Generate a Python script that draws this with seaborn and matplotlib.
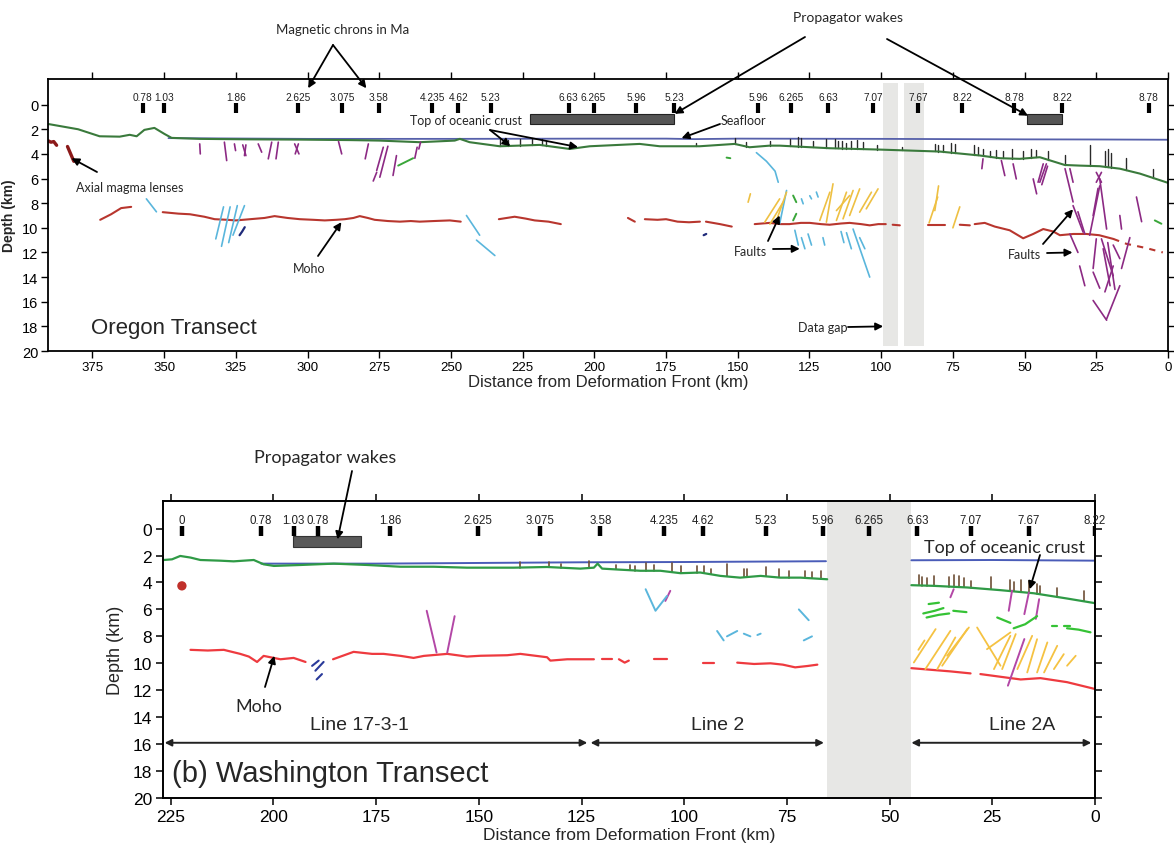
import numpy as np
import pandas as pd
import matplotlib
matplotlib.use("Agg")
import matplotlib.pyplot as plt
import seaborn as sns

sns.set_theme(style="ticks")
plt.rcParams['font.family'] = ['Liberation Sans', 'DejaVu Sans']

W, H = 1174, 854
NARROW = ['Liberation Sans', 'DejaVu Sans']
CAL = ['Lato', 'DejaVu Sans']

# ===================== DATA : OREGON TRANSECT =====================
OR_CHRON_KM = [357.4, 350.0, 325.0, 303.4, 287.9, 275.2, 256.6, 247.4, 236.1, 208.9, 200.3,
               185.5, 172.1, 142.9, 131.5, 118.4, 102.7, 87.0, 71.7, 53.7, 36.8, 6.7]
OR_CHRON_LAB = ["0.78", "1.03", "1.86", "2.625", "3.075", "3.58", "4.235", "4.62", "5.23", "6.63", "6.265",
                "5.96", "5.23", "5.96", "6.265", "6.63", "7.07", "7.67", "8.22", "8.78", "8.22", "8.78"]
OR_WAKE_START = [222.3, 49.0]
OR_WAKE_END = [172.1, 36.8]
OR_GAP_START = [99.3, 91.9]
OR_GAP_END = [94.2, 85.0]

OR_SEAFLOOR_KM = [348.5, 325, 300, 275, 250, 225, 200, 175, 165, 150, 125, 100, 75, 50, 25, 0]
OR_SEAFLOOR_D = [2.72, 2.75, 2.78, 2.78, 2.78, 2.77, 2.76, 2.76, 2.8, 2.76, 2.77, 2.78, 2.8, 2.82, 2.83, 2.85]

OR_CRUST_KM = [390.5, 380, 372.5, 365.5, 362, 359.6, 356.9, 353.4, 349.9, 347.4, 337.6, 320, 302.7, 285,
               274.9, 260.9, 248.7, 246.9, 243.5, 233, 219.1, 208.6, 201.6, 184.2, 177.2, 163.3, 151.1,
               145.9, 138.9, 135.4, 118, 100.5, 79.6, 65.6, 58.6, 51.7, 44.7, 36, 30.8, 23.8, 16.8, 9.8, 0]
OR_CRUST_D = [1.57, 2.0, 2.57, 2.6, 2.45, 2.57, 2.05, 1.89, 2.38, 2.7, 2.78, 2.82, 2.84, 2.88,
              2.92, 3.05, 2.92, 2.78, 3.05, 3.38, 3.27, 3.6, 3.38, 3.19, 3.38, 3.38, 3.19,
              3.46, 3.33, 3.33, 3.54, 3.65, 3.81, 4.13, 4.35, 4.4, 4.27, 4.9, 4.95, 5.0, 5.2, 5.6, 6.35]

OR_MOHO = [
    (372.3, 9.35, 368.5, 8.9, 365.0, 8.4, 361.5, 8.3),
    (350.5, 8.73, 345, 8.85, 341, 8.9, 336, 9.1, 332.4, 9.3, 328, 9.35, 325, 9.4, 320, 9.3, 315, 9.2,
     311.5, 9.05, 307, 9.2, 302.7, 9.3, 298, 9.35, 294, 9.4, 290, 9.35, 287, 9.3, 284, 9.2, 281.8, 9.05,
     279, 9.2, 276.6, 9.35, 272, 9.45, 267.8, 9.5, 264, 9.45, 260.9, 9.5, 256, 9.45, 250.4, 9.4, 246.6, 9.5),
    (233.3, 9.3, 227.8, 9.1, 224, 9.25, 220.8, 9.4, 216, 9.5, 211.7, 9.7),
    (188.3, 9.2, 185.9, 9.5),
    (182.4, 9.3, 178, 9.35, 175, 9.3, 171, 9.5, 167, 9.55, 163.2, 9.5),
    (161.1, 9.5, 156.2, 9.7, 152.1, 9.9),
    (144.1, 9.7, 138.9, 9.6, 135, 9.7, 132, 9.7, 128, 9.6, 124.9, 9.6, 121, 9.7, 118, 9.75, 114, 9.65,
     111, 9.6, 107, 9.7, 104, 9.8, 101, 9.7, 98.4, 9.7),
    (96.0, 9.75, 93.5, 9.8),
    (83.8, 9.8, 77.8, 9.8),
    (72.6, 9.75, 69.1, 9.8),
    (67.4, 9.7, 63.9, 9.6, 60.4, 9.9, 55.2, 10.2, 50.5, 10.85, 47, 10.5, 43.5, 10.1, 40, 10.3, 37.7, 10.6,
     33, 10.5, 28.4, 10.5, 24, 10.6, 19.1, 10.9),
]
OR_MOHO_DASHED = [(19.1, 10.9, 14.5, 11.3, 7.5, 11.65, 1.8, 12.0)]

OR_MAGMA = [(390.3, 2.95, 389.5, 3.05, 388.5, 3.0, 387.5, 3.3), (383.7, 3.4, 381.5, 4.6)]

OR_PURPLE = [
    (337.6, 3.19, 337.4, 4.0), (329.0, 3.05, 328.2, 4.54), (325.5, 3.19, 325.1, 3.73),
    (322.6, 3.27, 321.5, 4.14), (321.5, 3.27, 322.0, 4.14), (317.2, 3.19, 316.0, 3.86),
    (312.5, 3.05, 313.7, 4.4), (310.2, 3.05, 311.0, 4.4), (304.5, 3.19, 303.0, 4.0),
    (303.2, 3.19, 304.3, 4.0), (289.2, 3.0, 288.1, 4.0), (278.8, 3.19, 279.9, 4.4),
    (273.6, 3.46, 275.9, 5.35), (275.9, 5.5, 277.1, 6.2), (272.0, 3.38, 274.8, 5.89),
    (269.0, 4.14, 270.2, 5.75), (261.8, 3.46, 262.6, 4.35), (260.6, 3.05, 261.2, 3.6),
    (64.5, 4.4, 64.9, 5.2), (58.1, 4.54, 56.9, 5.76), (54.0, 4.81, 52.9, 6.03),
    (47.0, 6.03, 45.8, 7.24), (42.4, 4.81, 44.7, 6.3), (43.5, 4.81, 45.3, 6.3), (42.0, 5.0, 44.0, 6.5),
    (35.9, 5.2, 33.1, 7.9), (34.2, 5.2, 33.1, 6.3), (33.1, 8.2, 29.6, 10.35), (31.4, 8.7, 29.0, 10.5),
    (25.0, 5.5, 23.2, 6.3), (23.2, 5.5, 25.0, 6.3), (23.8, 6.6, 27.3, 10.6), (24.4, 6.8, 26.1, 9.0),
    (23.8, 6.03, 21.4, 10.1), (16.8, 9.0, 16.2, 10.1), (11.0, 7.5, 9.2, 9.5),
    (34.2, 10.5, 31.4, 12.0), (30.8, 13.1, 29.0, 14.7), (25.0, 10.9, 26.1, 13.3),
    (23.2, 10.9, 19.1, 13.9), (22.6, 11.7, 20.2, 14.7), (19.1, 11.4, 16.8, 12.5),
    (13.3, 10.8, 16.2, 13.3), (19.1, 13.1, 22.0, 15.2), (16.8, 14.7, 21.4, 17.4),
    (26.1, 15.9, 21.4, 17.5), (26.1, 13.6, 23.8, 14.9), (21.0, 11.2, 18.5, 15.0),
]
OR_CYAN = [
    (356.2, 7.65, 352.7, 8.7),
    (329.3, 8.3, 332.0, 10.9), (327.0, 8.3, 330.0, 11.5), (324.5, 8.2, 327.5, 11.2), (322.0, 8.2, 326.0, 10.6),
    (244.6, 9.0, 240.0, 10.6), (241.1, 11.0, 234.7, 12.25),
    (143.5, 3.9, 140.0, 4.6, 137.0, 5.4, 135.9, 6.3),
    (133.0, 6.97, 135.4, 9.67), (127.8, 7.65, 127.2, 8.05), (124.9, 7.4, 124.3, 7.65), (122.6, 7.1, 122.0, 7.5),
    (130.1, 10.2, 128.9, 11.4), (127.8, 10.8, 126.6, 11.7), (125.5, 10.5, 124.3, 11.4),
    (120.3, 10.8, 119.7, 11.4), (112.1, 10.4, 110.4, 11.7), (109.8, 10.1, 104.0, 14.0),
    (107.5, 10.8, 105.7, 11.7), (114.0, 10.3, 113.0, 11.2),
]
OR_YELLOW = [
    (146.4, 7.92, 145.6, 7.24), (140.6, 9.54, 135.4, 7.65), (138.8, 9.7, 134.2, 7.92),
    (136.5, 9.4, 133.0, 7.11), (121.4, 9.4, 117.9, 7.11), (119.1, 9.54, 116.8, 6.43),
    (115.6, 9.4, 112.1, 7.11), (113.3, 9.27, 109.8, 6.97), (111.0, 9.0, 107.5, 6.84),
    (107.5, 8.73, 103.4, 7.11), (105.2, 8.46, 101.1, 6.84), (115.6, 8.6, 111.0, 7.38),
    (83.3, 9.6, 80.3, 7.5), (81.3, 8.6, 80.0, 6.6), (75.0, 10.0, 72.6, 8.3),
]
OR_FGREEN = [(268.4, 4.95, 263.2, 4.35), (153.9, 4.3, 152.6, 4.35), (130.7, 7.38, 129.6, 7.92),
             (129.6, 8.86, 130.7, 9.4), (4.6, 9.4, 2.3, 9.67)]
OR_DKBLUE = [(321.9, 9.95, 322.8, 10.3, 323.7, 10.6), (161.9, 10.6, 161.0, 10.5)]

OR_SPIKE_KM = [233.0, 230.1, 226.0, 221.9, 218.2, 216.7, 164.4, 151.0, 147.0, 138.8,
               131.9, 129.0, 127.8, 123.7, 119.1, 116.2, 115.0, 113.8, 112.1, 110.4, 108.4, 106.5,
               101.6, 92.9, 81.3, 80.2, 78.4, 75.5, 74.3, 67.7, 66.2, 64.5, 62.1, 59.8, 57.5, 54.4,
               50.5, 47.6, 45.9, 41.8, 36.0, 27.3, 22.0, 20.9, 19.7, 14.5, 5.2]
OR_SPIKE_LEN = [0.6, 0.5, 0.5, 0.6, 0.5, 0.4, 0.3, 0.5, 0.4, 0.4,
                0.6, 0.8, 0.7, 0.5, 0.7, 0.8, 0.6, 0.6, 0.5, 0.6, 0.7, 0.6,
                0.4, 0.3, 0.6, 0.5, 0.6, 0.8, 0.7, 0.8, 0.7, 0.6, 0.5, 0.6, 0.6, 0.8,
                0.6, 0.7, 0.6, 0.7, 0.8, 1.7, 1.3, 1.5, 1.2, 1.0, 0.7]

# ===================== DATA : WASHINGTON TRANSECT =====================
WA_CHRON_KM = [222.3, 203.1, 195.1, 189.2, 171.6, 150.3, 135.0, 120.4, 104.9, 95.4, 80.2, 66.3,
               55.1, 43.3, 30.2, 16.1, 0.0]
WA_CHRON_LAB = ["0", "0.78", "1.03", "0.78", "1.86", "2.625", "3.075", "3.58", "4.235", "4.62", "5.23",
                "5.96", "6.265", "6.63", "7.07", "7.67", "8.22"]
WA_WAKE_START = [195.2]
WA_WAKE_END = [178.8]
WA_GAP_START = [65.2]
WA_GAP_END = [44.7]

WA_SEAFLOOR = [(203.0, 2.6, 175, 2.6, 150, 2.55, 125, 2.5, 100, 2.48, 65.5, 2.42),
               (44.7, 2.35, 25, 2.33, 0, 2.38)]
WA_CRUST = [
    (226.7, 2.33, 224.7, 2.28, 222.7, 2.03, 220.2, 2.15, 217.8, 2.33, 213, 2.38, 209.7, 2.43, 204.8, 2.33,
     202.4, 2.65, 199.9, 2.77, 193.4, 2.7, 185.3, 2.6, 177.2, 2.7, 169.1, 2.83, 161, 2.83, 152.9, 2.9,
     149.6, 2.9, 141.5, 2.9, 133.4, 2.85, 125.3, 2.97, 122, 2.9, 121.1, 2.6, 120, 2.97, 115.5, 3.05,
     110.7, 3.13, 105.8, 3.13, 100.9, 3.31, 96.1, 3.26, 91.2, 3.51, 86.4, 3.64, 81.4, 3.51, 76.6, 3.64,
     71.7, 3.64, 65.2, 3.76),
    (44.7, 4.2, 39.2, 4.25, 31.1, 4.37, 23.0, 4.57, 14.9, 4.8, 6.8, 5.19, 0.1, 5.53),
]
WA_MOHO = [
    (220.2, 9.0, 216, 9.05, 212.1, 9.0, 208.1, 9.3, 206, 9.5, 204, 9.9, 202.4, 9.45, 198.3, 9.7,
     195.1, 9.6, 192.2, 9.9),
    (185.5, 9.7, 180.5, 9.15, 176, 9.3, 173.2, 9.3, 169, 9.45, 165.9, 9.6, 163.4, 9.45, 157.7, 9.3,
     152.9, 9.5, 149.6, 9.44, 143.1, 9.4, 139.9, 9.3, 133.4, 9.55, 132.6, 9.8, 128.5, 9.7, 122, 9.7),
    (120.0, 9.65, 117.6, 9.65), (115.9, 9.7, 114.5, 9.95, 113.5, 9.8), (107.4, 9.7, 104.2, 9.7),
    (95.4, 10.0, 92.8, 10.0),
    (87.1, 9.95, 83, 10.05, 79, 10.0, 76, 10.1, 73, 10.3, 70, 10.2, 67.6, 10.1),
    (44.7, 10.36, 39.2, 10.5, 35.2, 10.6, 30.3, 10.75),
    (27.9, 10.8, 23.0, 11.0, 18.1, 11.2, 13.3, 11.1, 6.8, 11.4, 0.1, 11.9),
]
WA_DOT_KM = [222.3]
WA_DOT_D = [4.25]

WA_PURPLE = [(162.7, 6.1, 160.3, 9.2), (155.9, 6.5, 157.7, 9.2), (103.4, 4.62, 104.6, 5.37),
             (34.4, 4.5, 35.2, 5.1), (20.2, 4.6, 21.0, 6.1), (16.1, 4.75, 17.2, 6.35),
             (13.6, 5.24, 14.4, 6.7), (17.2, 8.2, 21.2, 11.66)]
WA_CYAN = [(109.4, 4.5, 107.0, 6.1, 104.2, 5.0), (92.0, 7.6, 90.4, 8.3), (89.6, 8.0, 87.1, 7.6),
           (85.5, 7.8, 83.9, 8.0), (82.2, 7.9, 81.4, 7.8), (72.1, 6.0, 69.7, 6.8),
           (70.9, 8.3, 68.9, 8.0)]
WA_DKBLUE = [(190.6, 10.19, 189.0, 9.8), (189.8, 10.55, 187.8, 9.9), (189.5, 11.2, 188.2, 10.8)]
WA_YELLOW = [(44.1, 9.94, 38.8, 7.46), (41.3, 10.43, 35.2, 7.59), (38.4, 10.43, 34.0, 8.08),
             (37.2, 10.18, 31.1, 7.46), (36.0, 9.44, 30.7, 7.34), (28.7, 7.34, 23.0, 10.18),
             (26.3, 8.95, 20.6, 7.71), (24.6, 10.43, 20.6, 7.96), (22.6, 10.43, 19.3, 7.83),
             (18.9, 10.43, 15.3, 7.96), (16.5, 10.68, 14.1, 8.21), (14.1, 10.68, 11.6, 8.45),
             (12.4, 10.68, 9.2, 8.70), (10.0, 10.43, 7.6, 9.32), (6.8, 10.18, 4.7, 9.44),
             (43.0, 9.0, 41.5, 8.3)]
WA_FGREEN = [(41.8, 6.3, 39, 6.1, 36.9, 5.9), (41.0, 6.6, 38, 6.4, 35.5, 6.3), (34.5, 6.1, 31.3, 6.2),
             (40.5, 5.6, 38.0, 5.5), (23.8, 6.6, 20.6, 7.0), (19.8, 7.4, 17, 7.1, 14.1, 6.5),
             (10.4, 7.2, 9.2, 7.2), (7.6, 7.2, 6.0, 7.2), (6.8, 7.4, 4, 7.5, 1.1, 7.7)]
WA_SPIKE_KM = [139.9, 133.0, 130.1, 123.3, 116.7, 113.1, 111.9, 109.4, 107.4, 102.9, 100.9, 96.9, 95.3,
               93.6, 89.6, 85.5, 84.7, 80.2, 77.0, 74.6, 70.5, 68.9, 66.8,
               42.9, 42.1, 40.9, 39.3, 35.6, 34.3, 33.1, 31.9, 30.3, 25.4, 20.6, 19.8, 18.1, 16.1,
               14.1, 13.3, 9.2, 2.7]
WA_SPIKE_LEN = [0.4, 0.4, 0.3, 0.5, 0.3, 0.4, 0.3, 0.6, 0.4, 0.7, 0.5, 0.5, 0.5,
                0.4, 0.9, 0.6, 0.6, 0.7, 0.6, 0.5, 0.5, 0.5, 0.6,
                0.8, 0.6, 0.6, 0.7, 0.7, 0.9, 0.8, 0.7, 0.5, 0.9, 0.8, 0.7, 0.9, 0.9,
                0.7, 0.6, 0.7, 0.8]

# ===================== COLORS =====================
OR_GREEN, OR_BLUE, OR_RED = '#3a7a3c', '#5660aa', '#b8362e'
PURPLE, CYAN, YELLOW, DKBLUE = '#8c2a84', '#5ab6dc', '#eec043', '#1f2a7a'
WA_GREEN, WA_RED, WA_BLUE = '#2f9a46', '#ee3a3f', '#4a5cb8'
WA_PURP, WA_BROWN, WA_FG = '#b347a6', '#6e4f36', '#35c235'


def seg_frame(segs):
    rows = []
    for i, s in enumerate(segs):
        for j in range(0, len(s), 2):
            rows.append((i, s[j], s[j + 1]))
    return pd.DataFrame(rows, columns=['seg', 'x', 'y'])


def draw_segs(ax, segs, color, lw=1.2, ls='-'):
    df = seg_frame(segs)
    sns.lineplot(data=df, x='x', y='y', units='seg', estimator=None, sort=False,
                 color=color, lw=lw, ls=ls, ax=ax, legend=False)


def spikes(km_list, len_list, line_km, line_d):
    xs = np.asarray(line_km)[::-1]
    ys = np.asarray(line_d)[::-1]
    out = []
    for k, L in zip(km_list, len_list):
        b = float(np.interp(k, xs, ys))
        out.append((k, b, k, b - L))
    return out


def fig_xy(x, y):
    return (x / W, 1 - y / H)


fig = plt.figure(figsize=(11.74, 8.54), dpi=100)
ax1 = fig.add_axes([48 / W, 1 - 352 / H, (1168 - 48) / W, (352 - 80) / H])
ax2 = fig.add_axes([163 / W, 1 - 799 / H, (1095 - 163) / W, (799 - 502) / H])

# ===================== TOP PANEL =====================
for a, b in zip(OR_GAP_START, OR_GAP_END):
    ax1.axvspan(a, b, ymin=0.018, ymax=0.987, color='#e7e7e5', zorder=0, lw=0)

or_sea = pd.DataFrame({'x': OR_SEAFLOOR_KM, 'y': OR_SEAFLOOR_D})
sns.lineplot(data=or_sea, x='x', y='y', sort=False, estimator=None, color=OR_BLUE, lw=1.3, ax=ax1)
draw_segs(ax1, spikes(OR_SPIKE_KM, OR_SPIKE_LEN, OR_CRUST_KM, OR_CRUST_D), '#2a2a2a', lw=1.0)
or_crust = pd.DataFrame({'x': OR_CRUST_KM, 'y': OR_CRUST_D})
sns.lineplot(data=or_crust, x='x', y='y', sort=False, estimator=None, color=OR_GREEN, lw=1.5, ax=ax1)
draw_segs(ax1, OR_MOHO, OR_RED, lw=1.5)
draw_segs(ax1, OR_MOHO_DASHED, OR_RED, lw=1.5, ls=(0, (3, 3)))
draw_segs(ax1, OR_MAGMA, '#8b1a1a', lw=2.4)
draw_segs(ax1, OR_PURPLE, PURPLE, lw=1.2)
draw_segs(ax1, OR_CYAN, CYAN, lw=1.2)
draw_segs(ax1, OR_YELLOW, YELLOW, lw=1.2)
draw_segs(ax1, OR_FGREEN, '#3aa63a', lw=1.4)
draw_segs(ax1, OR_DKBLUE, DKBLUE, lw=1.6)

ax1.barh(y=1.16, width=np.array(OR_WAKE_END) - np.array(OR_WAKE_START), left=OR_WAKE_START,
         height=0.82, color='#555555', edgecolor='#222222', lw=0.8, zorder=3)
sns.scatterplot(x=OR_CHRON_KM, y=[0.25] * len(OR_CHRON_KM), marker='|', s=45, linewidth=3,
                color='black', ax=ax1, zorder=4)
for k, lab in zip(OR_CHRON_KM, OR_CHRON_LAB):
    ax1.text(k, -0.6, lab, ha='center', va='center', fontsize=7.3, family=NARROW, color='#222222')

ax1.set_xlim(390.5, 0)
ax1.set_ylim(20, -2.08)
ax1.set_xticks(range(375, -1, -25))
ax1.set_xticklabels([str(v) for v in range(375, -1, -25)], family=NARROW, fontsize=9.5)
ax1.set_yticks(range(0, 21, 2))
ax1.set_yticklabels([str(v) for v in range(0, 21, 2)], family=NARROW, fontsize=10.5)
ax1.tick_params(top=True, right=True, direction='out', length=5, width=1, colors='black', pad=2)
ax1.set_xlabel('Distance from Deformation Front (km)', fontsize=12, family=NARROW, labelpad=1)
ax1.set_ylabel('Depth (km)', fontsize=10, family=NARROW, labelpad=4, fontweight='bold')
for s in ax1.spines.values():
    s.set_color('black'); s.set_linewidth(1.3)
ax1.text(0.038, 0.088, 'Oregon Transect', transform=ax1.transAxes, fontsize=16, family=NARROW,
         ha='left', va='center')

# ===================== BOTTOM PANEL =====================
for a, b in zip(WA_GAP_START, WA_GAP_END):
    ax2.axvspan(a, b, color='#e7e7e5', zorder=0, lw=0)
draw_segs(ax2, WA_SEAFLOOR, WA_BLUE, lw=1.4)
crust_all = [v for seg in WA_CRUST for v in seg]
wa_ckm, wa_cd = crust_all[0::2], crust_all[1::2]
draw_segs(ax2, spikes(WA_SPIKE_KM, WA_SPIKE_LEN, wa_ckm, wa_cd), WA_BROWN, lw=1.2)
draw_segs(ax2, WA_CRUST, WA_GREEN, lw=1.6)
draw_segs(ax2, WA_MOHO, WA_RED, lw=1.6)
draw_segs(ax2, WA_PURPLE, WA_PURP, lw=1.4)
draw_segs(ax2, WA_CYAN, CYAN, lw=1.4)
draw_segs(ax2, WA_DKBLUE, '#2a3a9a', lw=1.5)
draw_segs(ax2, WA_YELLOW, '#f5c242', lw=1.3)
draw_segs(ax2, WA_FGREEN, WA_FG, lw=1.6)
sns.scatterplot(x=WA_DOT_KM, y=WA_DOT_D, s=45, color='#c0302a', edgecolor='none', ax=ax2, zorder=4)

ax2.barh(y=0.95, width=np.array(WA_WAKE_END) - np.array(WA_WAKE_START), left=WA_WAKE_START,
         height=0.8, color='#5a5a5a', edgecolor='#333333', lw=0.8, zorder=3)
sns.scatterplot(x=WA_CHRON_KM, y=[0.2] * len(WA_CHRON_KM), marker='|', s=50, linewidth=3.2,
                color='black', ax=ax2, zorder=4)
for k, lab in zip(WA_CHRON_KM, WA_CHRON_LAB):
    ax2.text(k, -0.62, lab, ha='center', va='center', fontsize=8.3, color='#222222')

# line extents
LINE_NAMES = ['Line 17-3-1', 'Line 2', 'Line 2A']
LINE_START = [226.5, 122.8, 44.7]
LINE_END = [123.6, 66.0, 0.9]
LINE_LABEL_KM = [179.0, 91.8, 17.7]
for a, b, n, c in zip(LINE_START, LINE_END, LINE_NAMES, LINE_LABEL_KM):
    ax2.annotate('', xy=(b, 15.9), xytext=(a, 15.9),
                 arrowprops=dict(arrowstyle='<|-|>', color='#222222', lw=1.4, mutation_scale=10,
                                 shrinkA=0, shrinkB=0))
    ax2.text(c, 14.55, n, ha='center', va='center', fontsize=14)

ax2.set_xlim(226.9, 0)
ax2.set_ylim(20, -2.05)
ax2.set_xticks(range(225, -1, -25))
ax2.set_xticklabels([str(v) for v in range(225, -1, -25)], fontsize=12.5)
ax2.set_yticks(range(0, 21, 2))
ax2.set_yticklabels([str(v) for v in range(0, 21, 2)], fontsize=12.5)
ax2.tick_params(top=True, right=True, direction='out', length=5, width=1.1, colors='black', pad=3)
ax2.set_xlabel('Distance from Deformation Front (km)', fontsize=12.5, labelpad=2)
ax2.set_ylabel('Depth (km)', fontsize=13, labelpad=6)
for s in ax2.spines.values():
    s.set_color('black'); s.set_linewidth(1.4)
ax2.text(0.01, 0.085, '(b) Washington Transect', transform=ax2.transAxes, fontsize=21,
         ha='left', va='center')

# ===================== ANNOTATIONS =====================
AR = dict(arrowstyle='-|>', color='black', lw=1.3, mutation_scale=11, shrinkA=0, shrinkB=0)


def label(x, y, s, size, **kw):
    fig.text(x / W, 1 - y / H, s, ha='center', va='center', fontsize=size, family=CAL, **kw)


def arrow(ax, head, tail_px):
    ax.annotate('', xy=head, xycoords='data', xytext=fig_xy(*tail_px), textcoords='figure fraction',
                arrowprops=AR, annotation_clip=False)


label(343, 30, 'Magnetic chrons in Ma', 9.5)
arrow(ax1, (299.8, -1.33), (333, 46))
arrow(ax1, (279.5, -1.33), (333, 46))
label(848, 18, 'Propagator wakes', 10)
arrow(ax1, (172.0, 0.75), (805, 38))
arrow(ax1, (48.8, 0.9), (887, 40))
label(466, 121, 'Top of oceanic crust', 9)
arrow(ax1, (229.3, 3.37), (490, 131))
arrow(ax1, (205.7, 3.45), (490, 131))
label(743, 121, 'Seafloor', 9)
arrow(ax1, (169.6, 2.72), (720, 125))
label(130, 188, 'Axial magma lenses', 9)
arrow(ax1, (382.3, 4.35), (97, 173))
label(309, 269, 'Moho', 9)
arrow(ax1, (288.2, 9.54), (318, 257))
label(750, 252, 'Faults', 9)
arrow(ax1, (135.4, 9.0), (768, 242))
arrow(ax1, (128.4, 11.7), (773, 250))
label(1024, 255, 'Faults', 9)
arrow(ax1, (33.1, 8.5), (1043, 245))
arrow(ax1, (33.3, 12.0), (1047, 254))
label(823, 328, 'Data gap', 9)
arrow(ax1, (99.3, 18.0), (848, 328))

label(325, 458, 'Propagator wakes', 13)
arrow(ax2, (184.4, 0.8), (352, 472))
label(1004, 548, 'Top of oceanic crust', 13)
arrow(ax2, (15.9, 4.5), (1040, 556))
label(259, 707, 'Moho', 13)
arrow(ax2, (199.8, 9.44), (265, 688))

fig.savefig('out.png', dpi=100)
